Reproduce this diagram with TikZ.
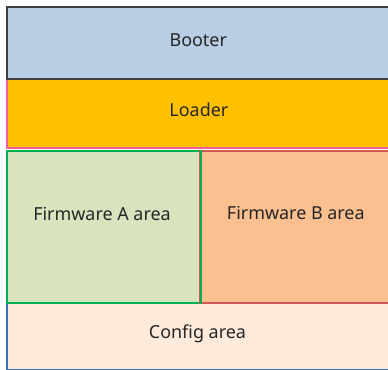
\documentclass[tikz,border=0pt]{standalone}
\usepackage{fontspec}
\setmainfont{Noto Sans}
\definecolor{bootfill}{HTML}{B9CDE5}
\definecolor{bootline}{HTML}{404040}
\definecolor{loadfill}{HTML}{FFC000}
\definecolor{loadline}{HTML}{F0609A}
\definecolor{fwafill}{HTML}{D7E4BD}
\definecolor{fwaline}{HTML}{00B050}
\definecolor{fwbfill}{HTML}{FAC090}
\definecolor{fwbline}{HTML}{D05858}
\definecolor{cfgfill}{HTML}{FDEADA}
\definecolor{cfgline}{HTML}{2E75B6}
\definecolor{txt}{HTML}{262626}
\tikzset{
  area/.style={rectangle, anchor=north west, inner sep=0pt, line width=2bp},
  label/.style={anchor=base, inner sep=0pt, font=\fontsize{18}{20}\selectfont, text=txt}
}
\begin{document}
\begin{tikzpicture}[x=1bp,y=-1bp]
\useasboundingbox (0,0) rectangle (388,370);
\clip (0,0) rectangle (388,370);
\node[area, draw=cfgline, fill=cfgfill, minimum width=384bp, minimum height=67bp] (cfg) at (6,302) {};
\node[area, draw=fwaline, fill=fwafill, minimum width=193bp, minimum height=152bp] (fwa) at (6,150) {};
\node[area, draw=fwbline, fill=fwbfill, minimum width=191bp, minimum height=152bp] (fwb) at (199,150) {};
\node[area, draw=loadline, fill=loadfill, minimum width=384bp, minimum height=69bp] (loader) at (6,78) {};
\node[area, draw=bootline, fill=bootfill, minimum width=384bp, minimum height=72bp] (booter) at (6,6) {};
\draw[fwaline, line width=2bp] (fwa.north east) -- (fwa.south east);
\node[label] (tboot) at (198.3,46.3) {Booter};
\node[label] (tload) at (198.9,116.3) {Loader};
\node[label] (tfwa) at (102,220) {Firmware A area};
\node[label] (tfwb) at (295.8,219.5) {Firmware B area};
\node[label] (tcfg) at (197.5,338.3) {Config area};
\end{tikzpicture}
\end{document}
